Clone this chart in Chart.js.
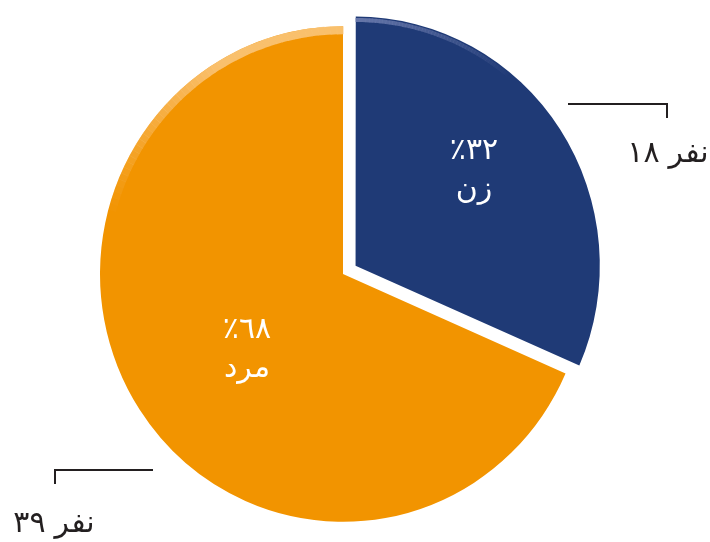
<!DOCTYPE html>
<html>
<head>
<meta charset="utf-8">
<script src="https://cdn.jsdelivr.net/npm/chart.js@4.4.0/dist/chart.umd.min.js"></script>
<style>
  html, body { margin: 0; padding: 0; background: #fff; }
  #chart { display: block; }
</style>
</head>
<body>
<canvas id="chart" width="710" height="542"></canvas>
<script>
// داده‌ها
const categories = ['زن', 'مرد'];
const counts = [18, 39];
const percentLabels = ['٪۳۲', '٪٦٨'];
const countDigits = ['۱۸', '۳۹'];
const countUnit = 'نفر';

const colors = ['#1f3a76', '#f29400'];
const rimColors = [[110, 125, 175], [250, 196, 120]];

const textFont = '"DejaVu Sans", sans-serif';
const stretchY = 1.02;

// کمی کشیدگی عمودی مثل تصویر اصلی
const stretchPlugin = {
	id: 'stretch',
	beforeDatasetsDraw(chart) {
		const ctx = chart.ctx;
		const p = chart.getDatasetMeta(0).data[0].getProps(['x', 'y']);
		ctx.save();
		ctx.translate(p.x, p.y);
		ctx.scale(1, stretchY);
		ctx.translate(-p.x, -p.y);
	},
	afterDatasetsDraw(chart) {
		chart.ctx.restore();
	}
};

// لبه روشن بالای برش‌ها
const rimPlugin = {
	id: 'rim',
	afterDatasetsDraw(chart) {
		const ctx = chart.ctx;
		const arcs = chart.getDatasetMeta(0).data;
		const offsets = chart.data.datasets[0].offset;
		const ranges = [[270, 310, 4], [195, 270, 8]];
		arcs.forEach((arc, i) => {
			const p = arc.getProps(['x', 'y', 'startAngle', 'endAngle', 'outerRadius']);
			const mid = (p.startAngle + p.endAngle) / 2;
			const shift = offsets[i] / 4;
			const cx = p.x + Math.cos(mid) * shift;
			const cy = p.y + Math.sin(mid) * shift;
			const [d0, d1, w] = ranges[i];
			const steps = 50;
			ctx.save();
			ctx.translate(cx, cy);
			ctx.scale(1, stretchY);
			ctx.lineWidth = w;
			for (let k = 0; k < steps; k++) {
				const a0 = (d0 + (d1 - d0) * k / steps) * Math.PI / 180;
				const a1 = (d0 + (d1 - d0) * (k + 1) / steps) * Math.PI / 180;
				// روشن‌تر نزدیک بالا
				const t = i === 0 ? 1 - k / steps : Math.min(1, 1.7 * (k + 1) / steps);
				const c = rimColors[i];
				ctx.strokeStyle = 'rgba(' + c[0] + ',' + c[1] + ',' + c[2] + ',' + (0.9 * t).toFixed(3) + ')';
				ctx.beginPath();
				ctx.arc(0, 0, p.outerRadius - w / 2, a0, a1 + 0.002);
				ctx.stroke();
			}
			ctx.restore();
		});
	}
};

// برچسب‌ها و خطوط راهنما
const labelPlugin = {
	id: 'labels',
	afterDraw(chart) {
		const ctx = chart.ctx;
		const arcs = chart.getDatasetMeta(0).data;
		const inner = [{ dx: 131, dy: -103 }, { dx: -96, dy: 76 }];
		const leaders = [
			{ pts: [[568, 104], [667, 104], [667, 118]], text: [668, 154] },
			{ pts: [[153, 470], [55, 470], [55, 484]], text: [54, 524] }
		];
		arcs.forEach((arc, i) => {
			const p = arc.getProps(['x', 'y']);
			const cx = p.x + inner[i].dx;
			const cy = p.y + inner[i].dy;
			ctx.save();
			ctx.fillStyle = '#ffffff';
			ctx.font = '30px ' + textFont;
			ctx.textAlign = 'center';
			ctx.textBaseline = 'middle';
			ctx.fillText(percentLabels[i], cx, cy - 20);
			ctx.fillText(categories[i], cx, cy + 19);
			ctx.restore();

			const l = leaders[i];
			ctx.save();
			ctx.strokeStyle = '#231f20';
			ctx.lineWidth = 2;
			ctx.beginPath();
			l.pts.forEach((pt, k) => k ? ctx.lineTo(pt[0], pt[1]) : ctx.moveTo(pt[0], pt[1]));
			ctx.stroke();
			// عدد سمت چپ، واژه سمت راست
			ctx.fillStyle = '#231f20';
			ctx.font = '30px ' + textFont;
			ctx.textAlign = 'left';
			ctx.textBaseline = 'middle';
			const gap = 9;
			const wNum = ctx.measureText(countDigits[i]).width;
			const wUnit = ctx.measureText(countUnit).width;
			const x0 = l.text[0] - (wNum + gap + wUnit) / 2;
			ctx.fillText(countDigits[i], x0, l.text[1]);
			ctx.fillText(countUnit, x0 + wNum + gap, l.text[1]);
			ctx.restore();
		});
	}
};

const canvas = document.getElementById('chart');

const graph = new Chart(canvas, {
	type: 'pie',
	data: {
		labels: categories,
		datasets: [{
			data: counts,
			backgroundColor: colors,
			borderWidth: 0,
			radius: 243,
			offset: [60, 0]
		}]
	},
	options: {
		responsive: false,
		animation: false,
		events: [],
		layout: { padding: { left: 0, right: 24, top: 6, bottom: 0 } },
		plugins: {
			legend: { display: false },
			tooltip: { enabled: false }
		}
	},
	plugins: [stretchPlugin, rimPlugin, labelPlugin]
});
</script>
</body>
</html>
